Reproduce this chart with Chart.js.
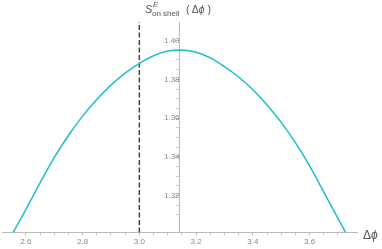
<!DOCTYPE html>
<html>
<head>
<meta charset="utf-8">
<script src="https://cdn.jsdelivr.net/npm/chart.js@4"></script>
<style>
html, body { margin: 0; padding: 0; background: #fff; }
#wrap { position: relative; width: 382px; height: 249px; }
.lbl { position: absolute; font-family: "Liberation Sans", Arial, sans-serif; color: #555; white-space: nowrap; line-height: 1; }
</style>
</head>
<body>
<div id="wrap">
  <canvas id="chart" width="382" height="249"></canvas>
  <div class="lbl" style="left:145px;top:4px;font-size:11px;"><i>S</i></div>
  <div class="lbl" style="left:153px;top:1px;font-size:7.5px;"><i>E</i></div>
  <div class="lbl" style="left:152px;top:10px;font-size:8px;">on shell</div>
  <div class="lbl" style="left:186px;top:4px;font-size:10.5px;">( Δ<i>ϕ</i> )</div>
  <div class="lbl" style="left:363px;top:229px;font-size:12px;">Δ<i>ϕ</i></div>
</div>
<script>
// values
const phiValues = [2.55, 2.60, 2.65, 2.70, 2.75, 2.80, 2.85, 2.90, 2.95, 3.00,
                   3.05, 3.10, 3.1416, 3.20, 3.25, 3.30, 3.35, 3.40, 3.45, 3.50,
                   3.55, 3.60, 3.65, 3.70, 3.75];
const actionValues = [1.2996, 1.3128, 1.3266, 1.3396, 1.3510, 1.3610, 1.3696, 1.3770, 1.3832, 1.3883,
                      1.3922, 1.3946, 1.3952, 1.3940, 1.3911, 1.3866, 1.3812, 1.3746, 1.3668, 1.3578,
                      1.3473, 1.3353, 1.3218, 1.3082, 1.2949];
const markerPhi = 3.0;
const xRange = [2.516, 3.767];
const yRange = [1.301, 1.4096];

const curve = phiValues.map((x, i) => ({ x: x, y: actionValues[i] }));
const marker = [{ x: markerPhi, y: yRange[0] }, { x: markerPhi, y: yRange[1] }];

function isMultiple(v, step) {
    const r = v / step;
    return Math.abs(r - Math.round(r)) < 1e-6;
}

new Chart(document.getElementById('chart'), {
    type: 'line',
    data: {
        datasets: [{
            data: curve,
            borderColor: 'rgb(28, 190, 204)',
            borderWidth: 1.5,
            pointRadius: 0,
            cubicInterpolationMode: 'monotone'
        }, {
            data: marker,
            borderColor: '#444',
            borderWidth: 1.5,
            borderDash: [5, 2.5],
            pointRadius: 0
        }]
    },
    options: {
        animation: false,
        responsive: false,
        layout: { padding: { top: 22, right: 25, left: 0, bottom: 0 } },
        plugins: { legend: { display: false }, tooltip: { enabled: false } },
        scales: {
            x: {
                type: 'linear',
                min: xRange[0],
                max: xRange[1],
                position: 'bottom',
                border: { color: '#bbb' },
                grid: {
                    drawOnChartArea: false,
                    tickLength: 3,
                    tickColor: ctx => isMultiple(ctx.tick.value, 0.05) ? (isMultiple(ctx.tick.value, 0.2) ? '#bbb' : '#ccc') : 'rgba(0,0,0,0)'
                },
                ticks: {
                    stepSize: 0.05,
                    autoSkip: false,
                    maxRotation: 0,
                    padding: 2,
                    color: '#888',
                    font: { family: '"Liberation Sans", Arial, sans-serif', size: 8 },
                    callback: v => isMultiple(v, 0.2) ? v.toFixed(1) : ''
                }
            },
            y: {
                type: 'linear',
                min: yRange[0],
                max: yRange[1],
                position: { x: Math.PI },
                border: { color: '#bbb' },
                grid: {
                    drawOnChartArea: false,
                    tickLength: 3,
                    tickColor: ctx => isMultiple(ctx.tick.value, 0.005) ? (isMultiple(ctx.tick.value, 0.02) ? '#bbb' : '#ccc') : 'rgba(0,0,0,0)'
                },
                ticks: {
                    stepSize: 0.005,
                    autoSkip: false,
                    padding: 2,
                    color: '#888',
                    font: { family: '"Liberation Sans", Arial, sans-serif', size: 8 },
                    callback: v => isMultiple(v, 0.02) ? v.toFixed(2) : ''
                }
            }
        }
    }
});
</script>
</body>
</html>
